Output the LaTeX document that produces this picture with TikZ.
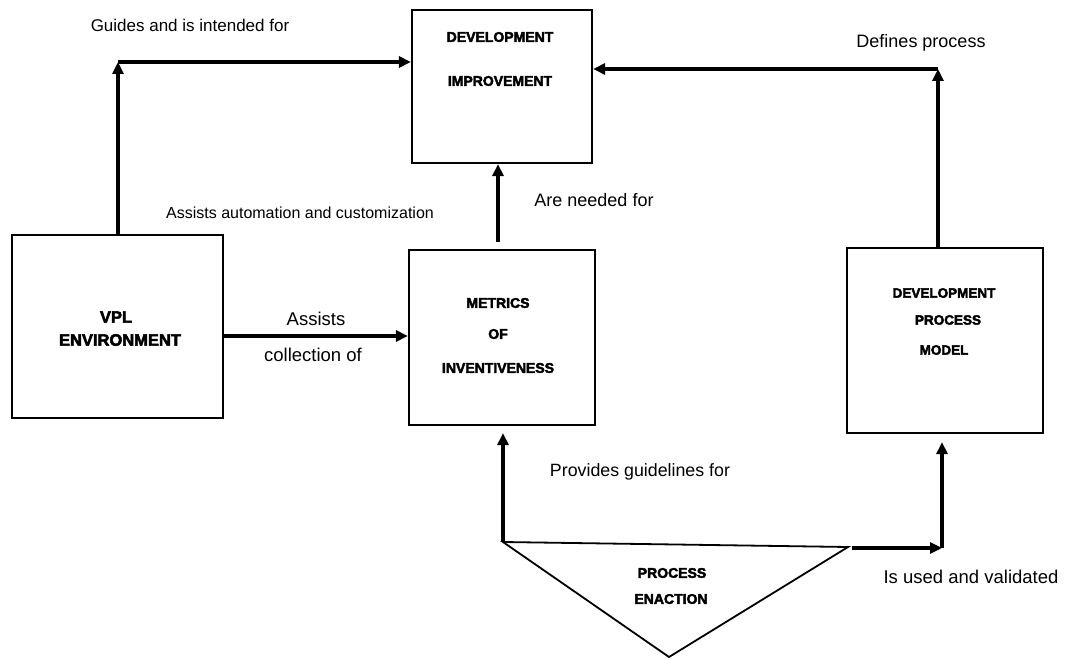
\documentclass[tikz,border=0pt]{standalone}
\usepackage{fontspec}
\setmainfont{Liberation Sans}
\newfontfamily\heavyfont[BoldFeatures={FakeBold=3}]{Liberation Sans}
\usetikzlibrary{arrows.meta}
\tikzset{
  box/.style={draw, line width=2.2pt, rectangle, inner sep=0pt},
  btext/.style={font=\heavyfont\bfseries\fontsize{14}{16}\selectfont, inner sep=0pt},
  lbl/.style={font=\fontsize{17.5}{20}\selectfont, inner sep=0pt},
  arr/.style={line width=3.2pt, -{Triangle[length=12pt,width=11pt]}}
}
\begin{document}
\begin{tikzpicture}[x=1pt,y=-1pt]
\useasboundingbox (0,0) rectangle (1068,660);
% boxes
\node[box, minimum width=180pt, minimum height=153pt] (DI) at (502,86.5) {};
\node[box, minimum width=211pt, minimum height=183pt] (VPL) at (117.5,326.5) {};
\node[box, minimum width=186pt, minimum height=175pt] (MET) at (502,337.5) {};
\node[box, minimum width=196pt, minimum height=185pt] (DPM) at (945,340.5) {};
% triangle
\coordinate (t1) at (503,542);
\coordinate (t2) at (848,547);
\coordinate (t3) at (669,657);
\draw[line width=1.8pt, line join=miter] (t1) -- (t2) -- (t3) -- cycle;
% box texts
\node[btext] (di1) at (500,37) {DEVELOPMENT};
\node[btext] (di2) at (500,81) {IMPROVEMENT};
\node[btext, font=\heavyfont\bfseries\fontsize{16.5}{18}\selectfont] (vp1) at (116,317) {VPL};
\node[btext, font=\heavyfont\bfseries\fontsize{16.5}{18}\selectfont] (vp2) at (120,340) {ENVIRONMENT};
\node[btext] (me1) at (498,303) {METRICS};
\node[btext] (me2) at (498,334) {OF};
\node[btext] (me3) at (498,368) {INVENTIVENESS};
\node[btext, font=\heavyfont\bfseries\fontsize{13.5}{16}\selectfont] (dp1) at (944,293) {DEVELOPMENT};
\node[btext, font=\heavyfont\bfseries\fontsize{13.5}{16}\selectfont] (dp2) at (948,320) {PROCESS};
\node[btext, font=\heavyfont\bfseries\fontsize{13.5}{16}\selectfont] (dp3) at (944,350) {MODEL};
\node[btext] (pe1) at (672,573) {PROCESS};
\node[btext] (pe2) at (671,599) {ENACTION};
% labels
\node[lbl, font=\fontsize{17}{20}\selectfont] (l1) at (190,25) {Guides and is intended for};
\node[lbl, font=\fontsize{16}{20}\selectfont] (l2) at (300,213) {Assists automation and customization};
\node[lbl, font=\fontsize{18.5}{20}\selectfont] (l3) at (316,319) {Assists};
\node[lbl, font=\fontsize{18.5}{20}\selectfont] (l4) at (313,355) {collection of};
\node[lbl, font=\fontsize{18}{20}\selectfont] (l5) at (594,200) {Are needed for};
\node[lbl, font=\fontsize{18}{20}\selectfont] (l6) at (921,43) {Defines process};
\node[lbl, font=\fontsize{17.8}{20}\selectfont] (l7) at (640,472) {Provides guidelines for};
\node[lbl, font=\fontsize{18.5}{20}\selectfont] (l8) at (971,577) {Is used and validated};
% connectors
\coordinate (c1) at (118,62);
\draw[arr] (VPL.north -| c1) -- (c1);
\draw[arr] (c1) -- (c1 -| DI.west);
\coordinate (c2) at (223,336);
\draw[arr] (VPL.east |- c2) -- (MET.west |- c2);
\coordinate (c3) at (498,242);
\draw[arr] (c3) -- (c3 |- DI.south);
\coordinate (c4) at (938,69);
\draw[arr] (DPM.north -| c4) -- (c4);
\draw[arr] (c4) -- (c4 -| DI.east);
\draw[arr, shorten >=7pt] (t1) -- (t1 |- MET.south);
\coordinate (c5) at (852,548);
\coordinate (c6) at (942,548);
\draw[arr] (c5) -- (c6);
\draw[arr, shorten >=8pt] (c6) -- (c6 |- DPM.south);
\end{tikzpicture}
\end{document}
